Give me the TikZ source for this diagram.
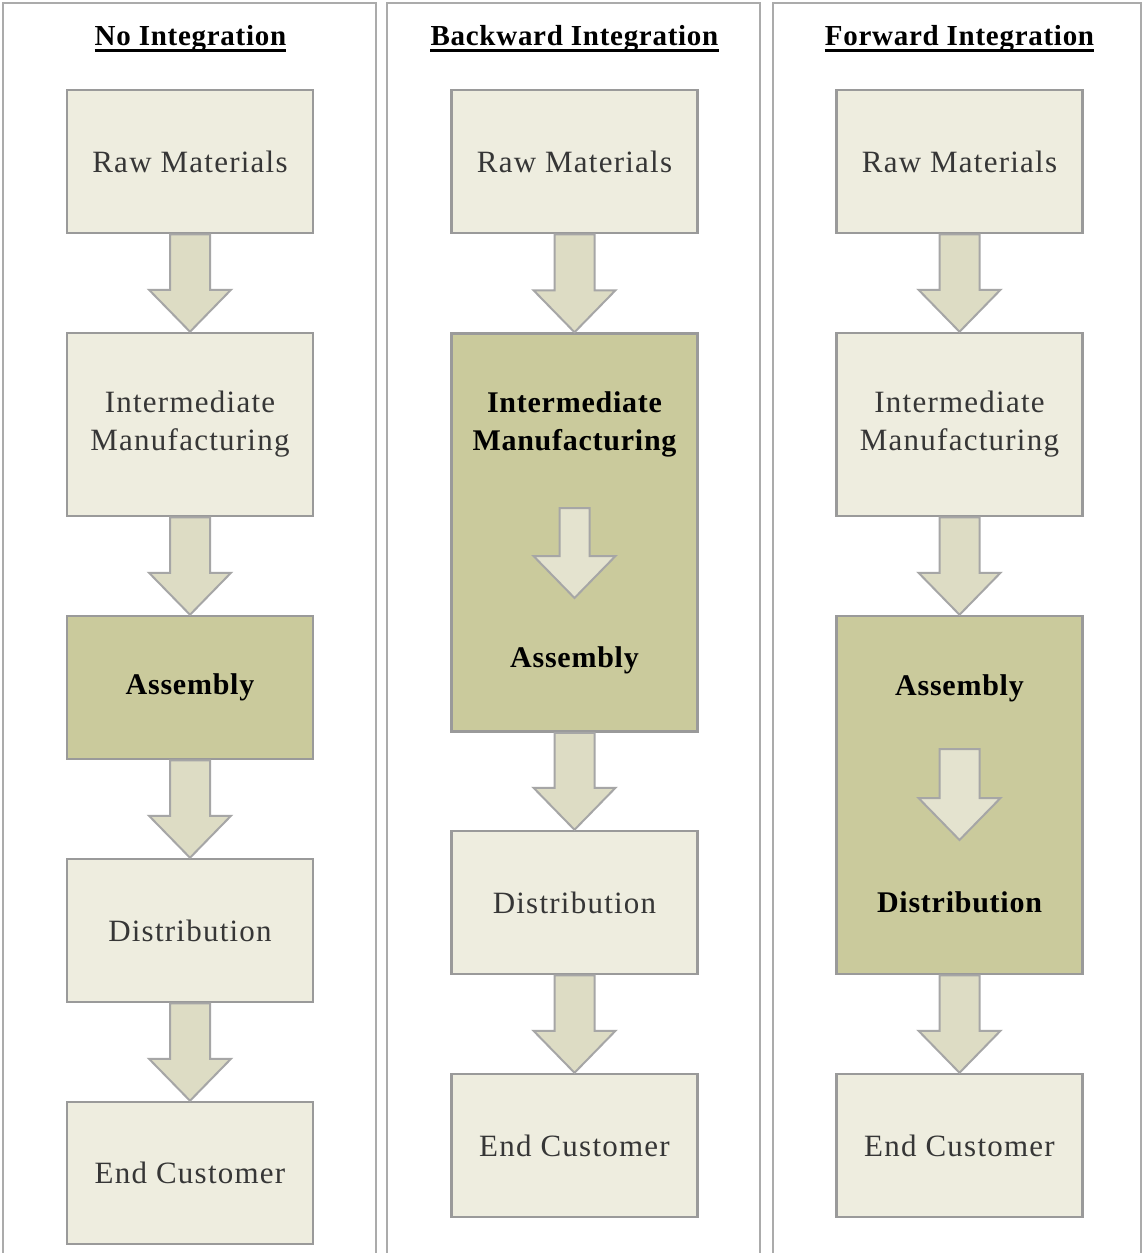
\documentclass[tikz,border=0pt]{standalone}
\usepackage{fontspec}
\setmainfont{Liberation Serif}
\usetikzlibrary{calc}
\newfontfamily\boxfont[LetterSpace=4]{Liberation Serif}
\newfontfamily\boldfont[LetterSpace=2.5]{Liberation Serif}
\newfontfamily\headfont[LetterSpace=2.5]{Liberation Serif}
\definecolor{lightfill}{HTML}{EEEDDF}
\definecolor{darkfill}{HTML}{CACA9C}
\definecolor{arrowfill}{HTML}{DDDCC4}
\definecolor{innerfill}{HTML}{E4E3CF}
\definecolor{boxborder}{HTML}{9A9A9A}
\definecolor{arrowborder}{HTML}{A6A6A6}
\definecolor{panelborder}{HTML}{ABABAB}
\definecolor{textgray}{HTML}{363636}
\tikzset{
  lightbox/.style={draw=boxborder, line width=2.5pt, fill=lightfill, minimum width=246pt,
    inner sep=0pt, text=textgray, align=center, font=\boxfont\fontsize{31}{38}\selectfont},
  darkbox/.style={draw=boxborder, line width=2.5pt, fill=darkfill, minimum width=246pt, inner sep=0pt},
  darktext/.style={text=black, align=center, inner sep=0pt, font=\boldfont\bfseries\fontsize{30}{38}\selectfont},
  headtext/.style={anchor=base, inner sep=0pt, text=black, font=\headfont\bfseries\fontsize{29}{34}\selectfont},
  underl/.style={line width=3pt, black},
  arrowbox/.style={draw=arrowborder, line width=2pt, fill=arrowfill, line join=miter},
  innerarrow/.style={arrowbox, fill=innerfill},
  panel/.style={draw=panelborder, line width=2pt}
}
% #1 shaft half width, #2 style, #3 start, #4 tip
\newcommand\flowarrow[4][20]{%
  \draw[#2] let \p1=(#3), \p2=(#4) in
    (\x1-#1pt,\y1) -- (\x1+#1pt,\y1) -- (\x1+#1pt,\y2+42pt) -- (\x1+41pt,\y2+42pt)
    -- (\x1,\y2) -- (\x1-41pt,\y2+42pt) -- (\x1-#1pt,\y2+42pt) -- cycle;}
\begin{document}
\begin{tikzpicture}[x=1pt,y=-1pt]
\useasboundingbox (0,0) rectangle (1144,1253);
\fill[white] (0,0) rectangle (1144,1253);
% panels
\draw[panel] (3,1253) -- (3,3) -- (376,3) -- (376,1253);
\draw[panel] (387,1253) -- (387,3) -- (760,3) -- (760,1253);
\draw[panel] (773,1253) -- (773,3) -- (1141,3) -- (1141,1253);
% headings
\node[headtext] (h1) at (190.5,45) {No Integration};
\node[headtext] (h2) at (574.5,45) {Backward Integration};
\node[headtext] (h3) at (959.5,45) {Forward Integration};
\foreach \h in {h1,h2,h3}{\draw[underl] ([yshift=-5.5pt]\h.base west) -- ([yshift=-5.5pt]\h.base east);}
% panel 1
\node[lightbox, minimum height=143pt] (a1) at (190,161.5) {Raw Materials};
\node[lightbox, minimum height=183pt] (a2) at (190,424.5) {Intermediate\\Manufacturing};
\node[darkbox, minimum height=143pt] (a3) at (190,687.5) {};
\node[darktext] (a3t) at (190,687.5) {Assembly};
\node[lightbox, minimum height=143pt] (a4) at (190,930.5) {Distribution};
\node[lightbox, minimum height=142pt] (a5) at (190,1173) {End Customer};
\flowarrow{arrowbox}{a1.south}{a2.north}
\flowarrow{arrowbox}{a2.south}{a3.north}
\flowarrow{arrowbox}{a3.south}{a4.north}
\flowarrow{arrowbox}{a4.south}{a5.north}
% panel 2
\node[lightbox, minimum height=143pt] (b1) at (574.5,161.5) {Raw Materials};
\node[darkbox, minimum height=398pt] (b2) at (574.5,532.5) {};
\node[darktext] (b2t) at (574.5,424) {Intermediate\\Manufacturing};
\node[darktext] (b2u) at (574.5,660) {Assembly};
\coordinate (b2s) at (574.5,508);
\coordinate (b2e) at (574.5,598);
\node[lightbox, minimum height=143pt] (b4) at (574.5,902.5) {Distribution};
\node[lightbox, minimum height=143pt] (b5) at (574.5,1145.5) {End Customer};
\flowarrow{arrowbox}{b1.south}{b2.north}
\flowarrow[15]{innerarrow}{b2s}{b2e}
\flowarrow{arrowbox}{b2.south}{b4.north}
\flowarrow{arrowbox}{b4.south}{b5.north}
% panel 3
\node[lightbox, minimum height=143pt] (c1) at (959.5,161.5) {Raw Materials};
\node[lightbox, minimum height=183pt] (c2) at (959.5,424.5) {Intermediate\\Manufacturing};
\node[darkbox, minimum height=358pt] (c3) at (959.5,795) {};
\node[darktext] (c3t) at (959.5,688) {Assembly};
\node[darktext] (c3u) at (959.5,902) {Distribution};
\coordinate (c3s) at (959.5,749);
\coordinate (c3e) at (959.5,840);
\node[lightbox, minimum height=143pt] (c5) at (959.5,1145.5) {End Customer};
\flowarrow{arrowbox}{c1.south}{c2.north}
\flowarrow{arrowbox}{c2.south}{c3.north}
\flowarrow[20]{innerarrow}{c3s}{c3e}
\flowarrow{arrowbox}{c3.south}{c5.north}
\end{tikzpicture}
\end{document}
